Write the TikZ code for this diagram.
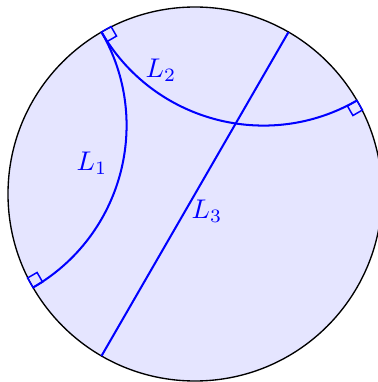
\documentclass[tikz,border=0pt]{standalone}
\begin{document}
\begin{tikzpicture}[x=0.37pt,y=0.37pt,
  geo/.style={blue,line width=0.75pt},
  rmark/.style={blue,line width=0.55pt},
  lbl/.style={text=blue,inner sep=0pt}]
\def\R{187}
\def\s{11}
\useasboundingbox (-195,-188) rectangle (182,194);
\draw[fill=blue!10,line width=0.5pt] (0,0) circle[radius=\R];
\coordinate (A) at (120:\R);
\coordinate (B) at (210:\R);
\coordinate (C) at (30:\R);
\coordinate (D) at (60:\R);
\coordinate (E) at (240:\R);
% L1
\draw[geo] (A) arc[start angle=30,end angle=-60,radius=\R];
% L2
\draw[geo] (A) arc[start angle=210,end angle=300,radius=\R];
% L3
\draw[geo] (D) -- (E);
% right-angle marks
\draw[rmark] (A) -- ++(30:\s) -- ++(300:\s) -- ++(210:\s) -- cycle;
\draw[rmark] (B) -- ++(120:\s) -- ++(30:\s) -- ++(300:\s) -- cycle;
\draw[rmark] (C) -- ++(300:\s) -- ++(210:\s) -- ++(120:\s) -- cycle;
% labels
\node[lbl] (l1) at (-103,31) {$L_1$};
\node[lbl] (l2) at (-34,124) {$L_2$};
\node[lbl] (l3) at (12,-17) {$L_3$};
\end{tikzpicture}
\end{document}
